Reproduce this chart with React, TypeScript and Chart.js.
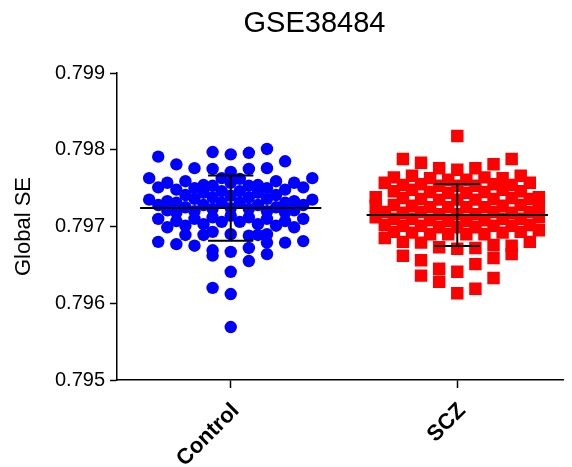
import React, { useEffect, useRef } from "react";
import { Chart, registerables } from "chart.js";

Chart.register(...registerables);

const chartTitle = "GSE38484";
const yAxisTitle = "Global SE";
const categories = ["Control", "SCZ"];
const yTicks = [0.795, 0.796, 0.797, 0.798, 0.799];

// swarm slot (half-column index) and value of every Control point
const controlSlots = [
  -8, -6, -4, -2, -2, 0, 0, 2, 2, 4, 4, 6,
  -9, -7, -5, -3, -1, 1, 3, 5, 7, 9,
  -8, -6, -4, -2, 0, 2, 4, 6, 8,
  -9, -7, -5, -3, -1, 1, 3, 5, 7, 9,
  -8, -6, -4, -2, 0, 2, 4, 6, 8,
  -7, -5, -3, -1, 1, 3, 5, 7,
  -6, -4, -2, 0, 2, 4, 6,
  -8, -6, -4, -2, 0, 2, 4, 6, 8,
  -7, -5, -3, -1, 1, 3, 5, 7,
  -5, -3, -2, 0, 2, 3, 4,
  -8, -6, -4, 4, 6, 8,
  -2, -2, 0, 2, 2, 4, 0, -2, 0, 0,
];
const controlValues = [
  0.79791, 0.79781, 0.79776, 0.79797, 0.79775, 0.79794, 0.79771, 0.79796, 0.79775, 0.79801, 0.79776, 0.79785,
  0.79763, 0.79757, 0.79759, 0.79754, 0.79763, 0.79762, 0.79754, 0.79759, 0.79757, 0.79763,
  0.79751, 0.79748, 0.7975, 0.79753, 0.79757, 0.79753, 0.7975, 0.79748, 0.79751,
  0.79735, 0.79733, 0.79741, 0.79744, 0.79746, 0.79746, 0.79744, 0.79741, 0.79733, 0.79735,
  0.79728, 0.79731, 0.79736, 0.79738, 0.7974, 0.79738, 0.79736, 0.79731, 0.79728,
  0.79721, 0.79725, 0.79728, 0.79731, 0.79731, 0.79728, 0.79725, 0.79721,
  0.79718, 0.7972, 0.79723, 0.79724, 0.79723, 0.7972, 0.79718,
  0.7971, 0.79707, 0.7971, 0.79712, 0.79714, 0.79712, 0.7971, 0.79707, 0.7971,
  0.79699, 0.79701, 0.79703, 0.79706, 0.79706, 0.79703, 0.79701, 0.79699,
  0.79689, 0.79689, 0.79693, 0.7969, 0.79688, 0.79689, 0.7969,
  0.7968, 0.79677, 0.79675, 0.79679, 0.79679, 0.79681,
  0.79669, 0.79662, 0.79667, 0.79672, 0.79655, 0.79664, 0.79641, 0.7962, 0.79612, 0.79569,
];

// swarm slot and value of every SCZ point
const sczSlots = [
  0, -6, -4, -2, 0, 2, 4, 6,
  -7, -5, -3, -1, 1, 3, 5, 7,
  -8, -6, -4, -2, 0, 2, 4, 6, 8,
  -7, -5, -3, -1, 1, 3, 5, 7,
  -9, -6, -4, -2, 0, 2, 4, 6, 8, 9,
  -9, -7, -5, -3, -1, 1, 3, 5, 7, 9,
  -8, -6, -4, -2, 0, 2, 4, 6, 8,
  -9, -7, -5, -3, -1, 1, 3, 5, 7, 9,
  -8, -6, -4, -2, 0, 2, 4, 6, 8,
  -7, -5, -3, -1, 1, 3, 5, 7, 9,
  -8, -6, -4, -2, 0, 2, 4, 6, 6, 8,
  -6, -4, 2, 4, -4, -2, -2, 0, 4, 2, 0,
];
const sczValues = [
  0.79818, 0.79788, 0.79783, 0.79776, 0.79774, 0.79776, 0.79781, 0.79788,
  0.79764, 0.79766, 0.79763, 0.79761, 0.79761, 0.79764, 0.79763, 0.79766,
  0.79757, 0.79754, 0.79755, 0.79753, 0.79753, 0.79753, 0.79755, 0.79754, 0.79757,
  0.79746, 0.79748, 0.79745, 0.79744, 0.79744, 0.79745, 0.79748, 0.79746,
  0.79738, 0.79737, 0.79736, 0.79735, 0.79735, 0.79735, 0.79736, 0.79737, 0.79736, 0.79738,
  0.79727, 0.79728, 0.79727, 0.79725, 0.79725, 0.79725, 0.79725, 0.79727, 0.79728, 0.79727,
  0.79719, 0.79718, 0.79719, 0.79716, 0.79716, 0.79716, 0.79719, 0.79718, 0.79719,
  0.79712, 0.7971, 0.7971, 0.79708, 0.79707, 0.79707, 0.79708, 0.7971, 0.7971, 0.79712,
  0.79702, 0.79701, 0.79701, 0.79699, 0.79699, 0.79699, 0.79701, 0.79701, 0.79702,
  0.79693, 0.79692, 0.7969, 0.7969, 0.7969, 0.7969, 0.79692, 0.79693, 0.79695,
  0.79685, 0.7968, 0.79679, 0.79673, 0.79671, 0.79672, 0.79676, 0.79675, 0.79664, 0.7968,
  0.79662, 0.79656, 0.79651, 0.79659, 0.79636, 0.79645, 0.79628, 0.79641, 0.79633, 0.79619, 0.79613,
];

const groupMeans = [0.79724, 0.79715];
const groupSDs = [0.000425, 0.000404];

const FONT = "'Liberation Sans', Arial, Helvetica, sans-serif";
const SLOT_WIDTH = 0.04;
const MEAN_HALF = 0.4;
const CAP_HALF = 0.1;

const toPoints = (group: number, slots: number[], values: number[]) =>
  values.map((v, i) => ({ x: group + slots[i] * SLOT_WIDTH, y: v }));

const meanSdPlugin = {
  id: "meanSd",
  afterDatasetsDraw(chart: any) {
    const { ctx, scales } = chart;
    const xs = scales.x;
    const ys = scales.y;
    ctx.save();
    ctx.strokeStyle = "#000";
    ctx.lineWidth = 2;
    groupMeans.forEach((m, i) => {
      const sd = groupSDs[i];
      const cx = xs.getPixelForValue(i);
      const yM = ys.getPixelForValue(m);
      const yHi = ys.getPixelForValue(m + sd);
      const yLo = ys.getPixelForValue(m - sd);
      ctx.beginPath();
      ctx.moveTo(xs.getPixelForValue(i - MEAN_HALF), yM);
      ctx.lineTo(xs.getPixelForValue(i + MEAN_HALF), yM);
      ctx.moveTo(cx, yHi);
      ctx.lineTo(cx, yLo);
      ctx.moveTo(xs.getPixelForValue(i - CAP_HALF), yHi);
      ctx.lineTo(xs.getPixelForValue(i + CAP_HALF), yHi);
      ctx.moveTo(xs.getPixelForValue(i - CAP_HALF), yLo);
      ctx.lineTo(xs.getPixelForValue(i + CAP_HALF), yLo);
      ctx.stroke();
    });
    ctx.restore();
  },
};

const titlePlugin = {
  id: "centerTitle",
  afterDraw(chart: any) {
    const { ctx } = chart;
    ctx.save();
    ctx.fillStyle = "#000";
    ctx.font = `29px ${FONT}`;
    ctx.textAlign = "center";
    ctx.textBaseline = "middle";
    ctx.fillText(chartTitle, 314.5, 24);
    ctx.restore();
  },
};

export default function App() {
  const canvasRef = useRef<HTMLCanvasElement | null>(null);

  useEffect(() => {
    if (!canvasRef.current) return;
    const chart = new Chart(canvasRef.current, {
      type: "scatter",
      data: {
        datasets: [
          {
            label: categories[0],
            data: toPoints(0, controlSlots, controlValues),
            pointStyle: "circle",
            pointRadius: 6.2,
            pointHoverRadius: 6.2,
            backgroundColor: "#0000ff",
            borderWidth: 0,
          },
          {
            label: categories[1],
            data: toPoints(1, sczSlots, sczValues),
            pointStyle: "rect",
            pointRadius: 8.8,
            pointHoverRadius: 8.8,
            backgroundColor: "#ff0000",
            borderWidth: 0,
          },
        ],
      },
      options: {
        animation: false,
        responsive: true,
        maintainAspectRatio: false,
        events: [],
        layout: { padding: { top: 73, left: 0, right: 0, bottom: 0 } },
        plugins: {
          legend: { display: false },
          tooltip: { enabled: false },
          title: { display: false },
        },
        scales: {
          x: {
            type: "linear",
            min: -0.502,
            max: 1.4675,
            afterBuildTicks: (s: any) => {
              s.ticks = categories.map((_, i) => ({ value: i }));
            },
            afterFit: (s: any) => {
              s.height = 87;
            },
            ticks: {
              autoSkip: false,
              minRotation: 45,
              maxRotation: 45,
              padding: 10,
              labelOffset: 5,
              color: "#000",
              font: { family: FONT, size: 22, weight: "bold" },
              callback: (v: any) => categories[Math.round(Number(v))] ?? "",
            },
            grid: {
              display: true,
              drawOnChartArea: false,
              drawTicks: true,
              tickLength: 8,
              tickWidth: 1.5,
              tickColor: "#000",
            },
            border: { display: true, color: "#000", width: 1.5 },
          },
          y: {
            type: "linear",
            min: 0.795,
            max: 0.799,
            afterBuildTicks: (s: any) => {
              s.ticks = yTicks.map((v) => ({ value: v }));
            },
            afterFit: (s: any) => {
              s.width = 117;
            },
            ticks: {
              padding: 5,
              color: "#000",
              font: { family: FONT, size: 20 },
              callback: (v: any) => Number(v).toFixed(3),
            },
            grid: {
              display: true,
              drawOnChartArea: false,
              drawTicks: true,
              tickLength: 7,
              tickWidth: 1.5,
              tickColor: "#000",
            },
            border: { display: true, color: "#000", width: 1.5 },
            title: {
              display: true,
              text: yAxisTitle,
              color: "#000",
              font: { family: FONT, size: 22 },
              padding: { top: 11, bottom: 0 },
            },
          },
        },
      },
      plugins: [meanSdPlugin, titlePlugin],
    } as any);
    return () => chart.destroy();
  }, []);

  return (
    <div style={{ position: "absolute", left: 0, top: 0, width: 572, height: 467 }}>
      <canvas ref={canvasRef} />
    </div>
  );
}
